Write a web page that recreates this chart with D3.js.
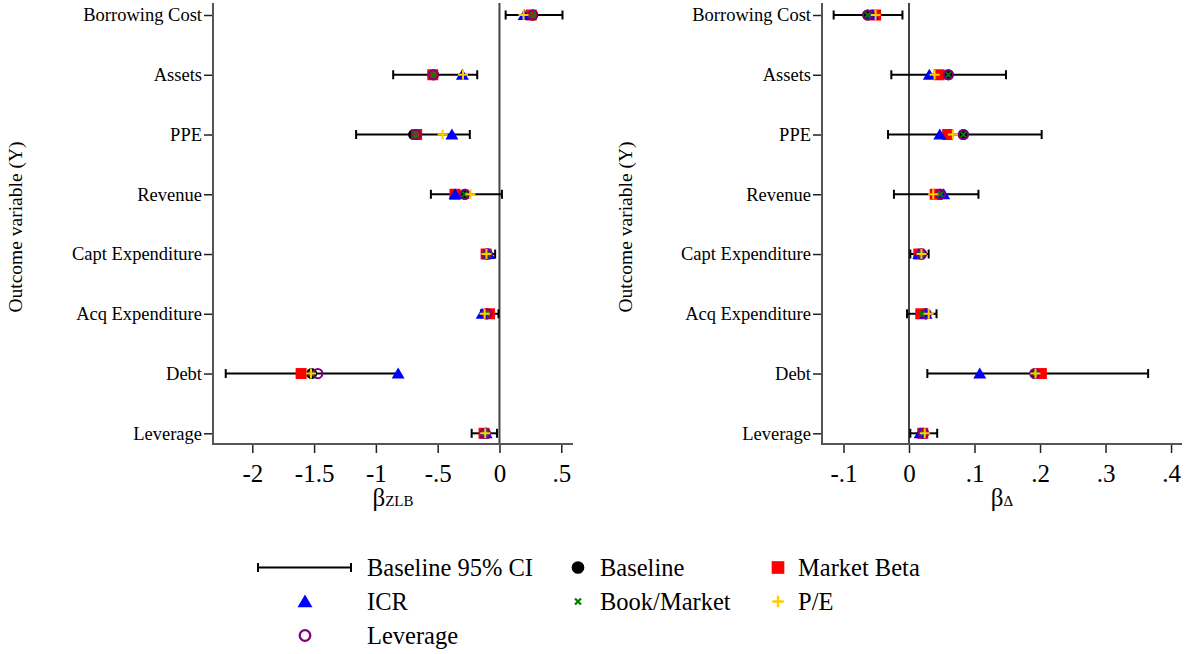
<!DOCTYPE html>
<html>
<head>
<meta charset="utf-8">
<script src="https://cdn.jsdelivr.net/npm/d3@7"></script>
<style>
  body { margin: 0; background: #fff; }
  svg { font-family: "Liberation Serif", "Times New Roman", serif; }
</style>
</head>
<body>
<svg id="chart" width="1190" height="654"></svg>
<script>
// outcome variables, top to bottom
var categories = ["Borrowing Cost", "Assets", "PPE", "Revenue", "Capt Expenditure", "Acq Expenditure", "Debt", "Leverage"]

// left panel: beta_ZLB
var zlbLo       = [0.05, -0.86, -1.16, -0.555, -0.14, -0.15, -2.215, -0.225]
var zlbHi       = [0.51, -0.18, -0.24, 0.02, -0.035, -0.008, -0.82, -0.02]
var zlbBaseline = [0.267, -0.535, -0.695, -0.28, -0.10, -0.105, -1.52, -0.115]
var zlbMarket   = [0.257, -0.54, -0.67, -0.36, -0.108, -0.08, -1.605, -0.125]
var zlbICR      = [0.20, -0.30, -0.385, -0.36, -0.086, -0.14, -0.82, -0.108]
var zlbLeverage = [0.27, -0.535, -0.675, -0.28, -0.10, -0.10, -1.47, -0.115]
var zlbBM       = [0.27, -0.535, -0.68, -0.28, -0.10, -0.10, -1.52, -0.115]
var zlbPE       = [0.195, -0.295, -0.46, -0.235, -0.105, -0.12, -1.525, -0.115]

// right panel: beta_Delta
var dLo       = [-0.115, -0.027, -0.032, -0.023, 0.002, -0.003, 0.028, 0.002]
var dHi       = [-0.01, 0.148, 0.2025, 0.106, 0.030, 0.042, 0.365, 0.043]
var dBaseline = [-0.063, 0.06, 0.083, 0.048, 0.019, 0.026, 0.193, 0.022]
var dMarket   = [-0.051, 0.046, 0.059, 0.040, 0.015, 0.018, 0.202, 0.021]
var dICR      = [-0.056, 0.031, 0.047, 0.053, 0.015, 0.026, 0.108, 0.017]
var dLeverage = [-0.063, 0.06, 0.083, 0.048, 0.019, 0.026, 0.192, 0.022]
var dBM       = [-0.063, 0.06, 0.083, 0.048, 0.019, 0.02, 0.193, 0.022]
var dPE       = [-0.051, 0.039, 0.067, 0.037, 0.019, 0.03, 0.193, 0.024]

var zlbTicks = [-2, -1.5, -1, -0.5, 0, 0.5]
var dTicks = [-0.1, 0, 0.1, 0.2, 0.3, 0.4]

var colors = { base: "#000", market: "#ff0000", icr: "#0000ff", lev: "#800080", bm: "#008000", pe: "#ffcc00" }

var serif = "Liberation Serif, Times New Roman, serif"
var svg = d3.select("#chart")

// stata style number: drop leading zero
function stataFmt(v) {
  var s = String(Math.round(v * 100) / 100)
  return s.replace(/^0\./, ".").replace(/^-0\./, "-.")
}

var triPath = "M0,-6L6.5,5L-6.5,5Z"
var xPath = "M-2.6,-2.6L2.6,2.6M-2.6,2.6L2.6,-2.6"
var plusPath = "M-5,0L5,0M0,-5L0,5"

// k scales the marker (legend keys are a touch bigger)
function drawMarkers(g, kind, x, y, k) {
  k = k || 1
  var m = g.append("g").attr("transform", `translate(${x},${y}) scale(${k})`)
  if (kind === "base") {
    m.append("circle").attr("r", 5.5).attr("fill", colors.base)
  } else if (kind === "market") {
    m.append("rect").attr("x", -5.5).attr("y", -5.5).attr("width", 11).attr("height", 11).attr("fill", colors.market)
  } else if (kind === "icr") {
    m.append("path").attr("d", triPath).attr("fill", colors.icr)
  } else if (kind === "lev") {
    m.append("circle").attr("r", 4.6).attr("fill", "none")
      .attr("stroke", colors.lev).attr("stroke-width", 2)
  } else if (kind === "bm") {
    m.append("path").attr("d", xPath)
      .attr("stroke", colors.bm).attr("stroke-width", 2).attr("fill", "none")
  } else if (kind === "pe") {
    m.append("path").attr("d", plusPath)
      .attr("stroke", colors.pe).attr("stroke-width", 2).attr("fill", "none")
  }
}

function panel(opts) {
  var left = opts.left, right = opts.left + 360
  var top = 3, bottom = 444

  var x = d3.scaleLinear().domain(opts.domain).range([left, right])
  var y = d3.scalePoint().domain(categories).range([15, 433.3])

  var g = svg.append("g")

  // zero line
  g.append("line")
    .attr("x1", x(0)).attr("x2", x(0))
    .attr("y1", top).attr("y2", bottom)
    .attr("stroke", "#444").attr("stroke-width", 2)

  // axes
  var yAxis = g.append("g")
    .attr("transform", `translate(${left},0)`)
    .call(d3.axisLeft(y).tickSize(9).tickPadding(2))
    .attr("font-family", serif)
  yAxis.select(".domain").remove()
  yAxis.selectAll("text").attr("font-size", "18.5px").attr("fill", "#000")
  yAxis.selectAll("line").attr("stroke", "#222").attr("stroke-width", 1.5)

  var xAxis = g.append("g")
    .attr("transform", `translate(0,${bottom})`)
    .call(d3.axisBottom(x).tickValues(opts.ticks).tickFormat(stataFmt).tickSize(9).tickPadding(11))
    .attr("font-family", serif)
  xAxis.select(".domain").remove()
  xAxis.selectAll("text").attr("font-size", "25px").attr("fill", "#000")
  xAxis.selectAll("line").attr("stroke", "#222").attr("stroke-width", 1.5)

  g.append("path")
    .attr("d", `M${left},${top}V${bottom}H${right}`)
    .attr("fill", "none").attr("stroke", "#555").attr("stroke-width", 2)

  // CI bars
  var ci = g.append("g")
  categories.forEach(function(c, i) {
    var yy = y(c)
    ci.append("line").attr("x1", x(opts.lo[i])).attr("x2", x(opts.hi[i]))
      .attr("y1", yy).attr("y2", yy).attr("stroke", "#000").attr("stroke-width", 2)
    ci.append("line").attr("x1", x(opts.lo[i])).attr("x2", x(opts.lo[i]))
      .attr("y1", yy - 4.5).attr("y2", yy + 4.5).attr("stroke", "#000").attr("stroke-width", 2)
    ci.append("line").attr("x1", x(opts.hi[i])).attr("x2", x(opts.hi[i]))
      .attr("y1", yy - 4.5).attr("y2", yy + 4.5).attr("stroke", "#000").attr("stroke-width", 2)
  })

  // markers, in the order Stata layers them
  var marks = g.append("g")
  var order = [["base", opts.base], ["market", opts.market], ["icr", opts.icr], ["lev", opts.lev], ["bm", opts.bm], ["pe", opts.pe]]
  order.forEach(function(o) {
    categories.forEach(function(c, i) {
      drawMarkers(marks, o[0], x(o[1][i]), y(c))
    })
  })

  // titles
  var cx = (left + right) / 2
  var t = g.append("text").attr("x", cx).attr("y", 506).attr("text-anchor", "middle")
  t.append("tspan").attr("font-size", "25px").text("β")
  t.append("tspan").attr("font-size", "15px").text(opts.sub)

  g.append("text")
    .attr("transform", `translate(${opts.titleX},227) rotate(-90)`)
    .attr("text-anchor", "middle").attr("dy", "0.35em")
    .attr("font-size", "19.5px")
    .text("Outcome variable (Y)")
}

panel({ left: 213, domain: [-2.318, 0.595], ticks: zlbTicks, sub: "ZLB", titleX: 15,
  lo: zlbLo, hi: zlbHi, base: zlbBaseline, market: zlbMarket, icr: zlbICR, lev: zlbLeverage, bm: zlbBM, pe: zlbPE })

panel({ left: 822, domain: [-0.1328, 0.4167], ticks: dTicks, sub: "Δ", titleX: 625,
  lo: dLo, hi: dHi, base: dBaseline, market: dMarket, icr: dICR, lev: dLeverage, bm: dBM, pe: dPE })

// legend
var legendItems = [
  { kind: "ci", label: "Baseline 95% CI", mx: 305, tx: 367, y: 567.5 },
  { kind: "base", label: "Baseline", mx: 578, tx: 600, y: 567.5 },
  { kind: "market", label: "Market Beta", mx: 778, tx: 798, y: 567.5 },
  { kind: "icr", label: "ICR", mx: 305, tx: 367, y: 601.5 },
  { kind: "bm", label: "Book/Market", mx: 578, tx: 600, y: 601.5 },
  { kind: "pe", label: "P/E", mx: 778, tx: 798, y: 601.5 },
  { kind: "lev", label: "Leverage", mx: 305, tx: 367, y: 635.5 }
]

var lg = svg.append("g")
legendItems.forEach(function(d) {
  if (d.kind === "ci") {
    lg.append("path").attr("d", `M258,${d.y}H351M258,${d.y - 4.5}V${d.y + 4.5}M351,${d.y - 4.5}V${d.y + 4.5}`)
      .attr("stroke", "#000").attr("stroke-width", 2).attr("fill", "none")
  } else {
    drawMarkers(lg, d.kind, d.mx, d.y, 1.15)
  }
  lg.append("text").attr("x", d.tx).attr("y", d.y).attr("dy", "0.35em")
    .attr("font-size", "24.5px").text(d.label)
})
</script>
</body>
</html>
